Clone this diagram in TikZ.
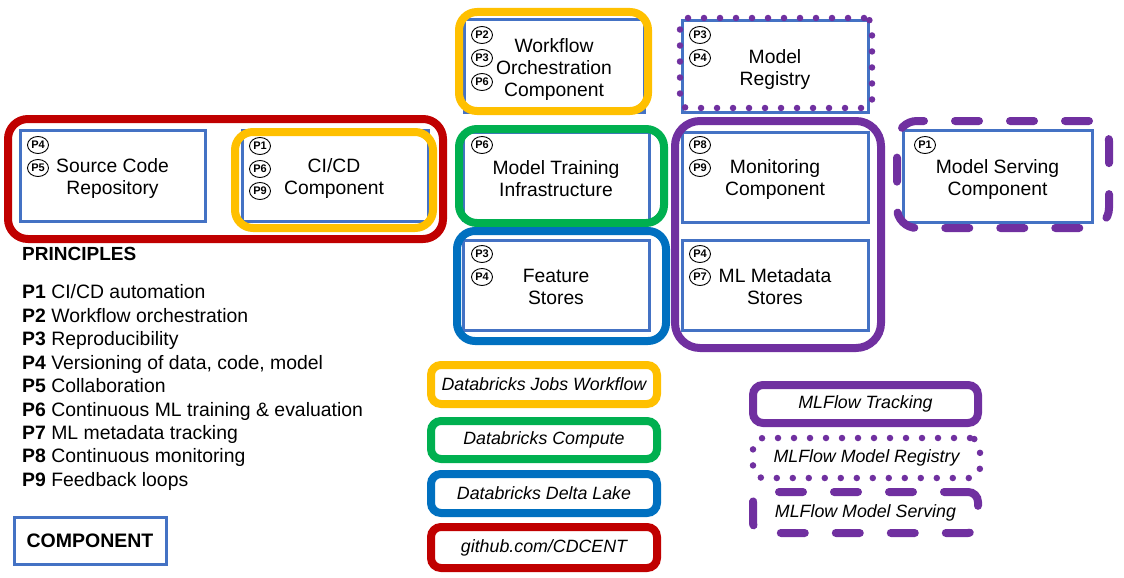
\documentclass[tikz,border=0pt]{standalone}
\usepackage{fontspec}
\setmainfont{Liberation Sans}
\usetikzlibrary{shapes.geometric}
\definecolor{cblue}{HTML}{4472C4}
\definecolor{cyel}{HTML}{FFC000}
\definecolor{cgreen}{HTML}{00B050}
\definecolor{cdblue}{HTML}{0070C0}
\definecolor{cred}{HTML}{C00000}
\definecolor{cpurp}{HTML}{7030A0}
\begin{document}
\begin{tikzpicture}[x=1pt,y=-1pt,
 comp/.style={draw=cblue, line width=3pt, inner sep=0pt},
 ctext/.style={inner sep=0pt, align=center, font=\fontsize{19.3}{22}\selectfont},
 pc/.style={draw=black, ellipse, line width=0.9pt, minimum width=21pt, minimum height=17pt, inner sep=0pt, font=\bfseries\fontsize{11}{11}\selectfont},
 grp/.style={line width=8pt, rounded corners=18pt, inner sep=0pt},
 dotline/.style={line width=6.5pt, line cap=round, dash pattern=on 0pt off 16pt},
 dashline/.style={line width=8pt, line cap=round, dash pattern=on 24pt off 31pt},
 lg/.style={font=\itshape\fontsize{17.8}{20}\selectfont},
 prin/.style={anchor=base west, inner sep=0pt, font=\fontsize{19.4}{22}\selectfont}]
\useasboundingbox (0,0) rectangle (1124,578);

% component boxes
\node[comp, minimum width=185pt, minimum height=91pt] (src) at (112.5,175.5) {};
\node[comp, minimum width=186pt, minimum height=91pt] (cicd) at (335,175.5) {};
\node[comp, minimum width=180pt, minimum height=92pt] (wf) at (554,66) {};
\node[comp, minimum width=186pt, minimum height=91pt] (reg) at (775,66.5) {};
\node[comp, minimum width=186pt, minimum height=88pt] (train) at (556,176) {};
\node[comp, minimum width=186pt, minimum height=90pt] (mon) at (775,177) {};
\node[comp, minimum width=189pt, minimum height=92pt] (serve) at (997.5,176) {};
\node[comp, minimum width=186pt, minimum height=90pt] (feat) at (556,285) {};
\node[comp, minimum width=186pt, minimum height=90pt] (meta) at (775,285) {};
\node[comp, minimum width=152pt, minimum height=47pt, font=\bfseries\fontsize{19.5}{20}\selectfont] (legcomp) at (90,540.5) {COMPONENT};

% component texts
\node[ctext] (src-t) at ([yshift=-3.5pt]src.center) {Source Code\\Repository};
\node[ctext] (cicd-t) at ([yshift=-3.5pt,xshift=-1pt]cicd.center) {CI/CD\\Component};
\node[ctext] (wf-t) at ([yshift=-3.5pt]wf.center) {Workflow\\Orchestration\\Component};
\node[ctext] (reg-t) at ([yshift=-3.5pt]reg.center) {Model\\Registry};
\node[ctext] (train-t) at ([yshift=-3pt]train.center) {Model Training\\Infrastructure};
\node[ctext] (mon-t) at ([yshift=-3pt]mon.center) {Monitoring\\Component};
\node[ctext] (serve-t) at ([yshift=-3.5pt]serve.center) {Model Serving\\Component};
\node[ctext] (feat-t) at ([yshift=-2pt]feat.center) {Feature\\Stores};
\node[ctext] (meta-t) at ([yshift=-2pt]meta.center) {ML Metadata\\Stores};

% principle markers
\node[pc] (src-p4) at (38,145) {P4};
\node[pc] (src-p5) at (38,168) {P5};
\node[pc] (cicd-p1) at (260,146) {P1};
\node[pc] (cicd-p6) at (260,169) {P6};
\node[pc] (cicd-p9) at (260,191) {P9};
\node[pc] (wf-p2) at (482,35) {P2};
\node[pc] (wf-p3) at (482,58) {P3};
\node[pc] (wf-p6) at (482,82) {P6};
\node[pc] (reg-p3) at (700,35) {P3};
\node[pc] (reg-p4) at (700,58) {P4};
\node[pc] (train-p6) at (482,145) {P6};
\node[pc] (mon-p8) at (700,145) {P8};
\node[pc] (mon-p9) at (700,168) {P9};
\node[pc] (serve-p1) at (925,145) {P1};
\node[pc] (feat-p3) at (482,254) {P3};
\node[pc] (feat-p4) at (482,277) {P4};
\node[pc] (meta-p4) at (700,254) {P4};
\node[pc] (meta-p7) at (700,277) {P7};

% group outlines
\node[grp, draw=cred, rounded corners=20pt, minimum width=435pt, minimum height=120pt] (gred) at (225.5,179) {};
\node[grp, draw=cyel, minimum width=198pt, minimum height=96pt] (gcicd) at (334,180) {};
\node[grp, draw=cyel, minimum width=189pt, minimum height=99pt] (gwf) at (553.5,61.5) {};
\node[grp, draw=cpurp, dotline, rounded corners=8pt, minimum width=192pt, minimum height=90pt] (greg) at (776,63) {};
\node[grp, draw=cgreen, minimum width=205pt, minimum height=94pt] (gtrain) at (561.5,176) {};
\node[grp, draw=cdblue, minimum width=209pt, minimum height=110pt] (gfeat) at (561.5,286) {};
\node[grp, draw=cpurp, rounded corners=25pt, minimum width=206pt, minimum height=227pt] (gmon) at (778,234.5) {};
\node[grp, draw=cpurp, dashline, rounded corners=20pt, minimum width=212pt, minimum height=107pt] (gserve) at (1003,174.5) {};

% principles
\node[anchor=base west, inner sep=0pt, font=\bfseries\fontsize{19}{20}\selectfont] (prinhead) at (22,260.8) {PRINCIPLES};
\foreach \t [count=\i] in {{\textbf{P1} CI/CD automation},{\textbf{P2} Workflow orchestration},{\textbf{P3} Reproducibility},{\textbf{P4} Versioning of data, code, model},{\textbf{P5} Collaboration},{\textbf{P6} Continuous ML training \& evaluation},{\textbf{P7} ML metadata tracking},{\textbf{P8} Continuous monitoring},{\textbf{P9} Feedback loops}}
  \node[prin] (pr\i) at (22,{298.8+23.45*(\i-1)}) {\t};

% tool legend
\node[grp, draw=cyel, rounded corners=10pt, minimum width=226pt, minimum height=39pt, lg] (lgwf) at (544,384.5) {Databricks Jobs Workflow};
\node[grp, draw=cgreen, rounded corners=10pt, minimum width=226pt, minimum height=38pt, lg] (lgcomp) at (544,440) {Databricks Compute};
\node[grp, draw=cdblue, rounded corners=10pt, minimum width=226pt, minimum height=39pt, lg] (lgdelta) at (544,493.5) {Databricks Delta Lake};
\node[grp, draw=cred, rounded corners=10pt, minimum width=226pt, minimum height=41pt, lg] (lggit) at (544,547.5) {github.com/CDCENT};
\node[grp, draw=cpurp, rounded corners=10pt, minimum width=225pt, minimum height=38pt, lg] (lgtrack) at (865.5,404) {MLFlow Tracking};
\node[grp, draw=cpurp, dotline, rounded corners=10pt, minimum width=227pt, minimum height=40pt, lg] (lgreg) at (866.5,458) {MLFlow Model Registry};
\node[grp, draw=cpurp, dashline, rounded corners=10pt, minimum width=225pt, minimum height=41pt, lg] (lgserve) at (865.5,512.5) {MLFlow Model Serving};
\end{tikzpicture}
\end{document}
